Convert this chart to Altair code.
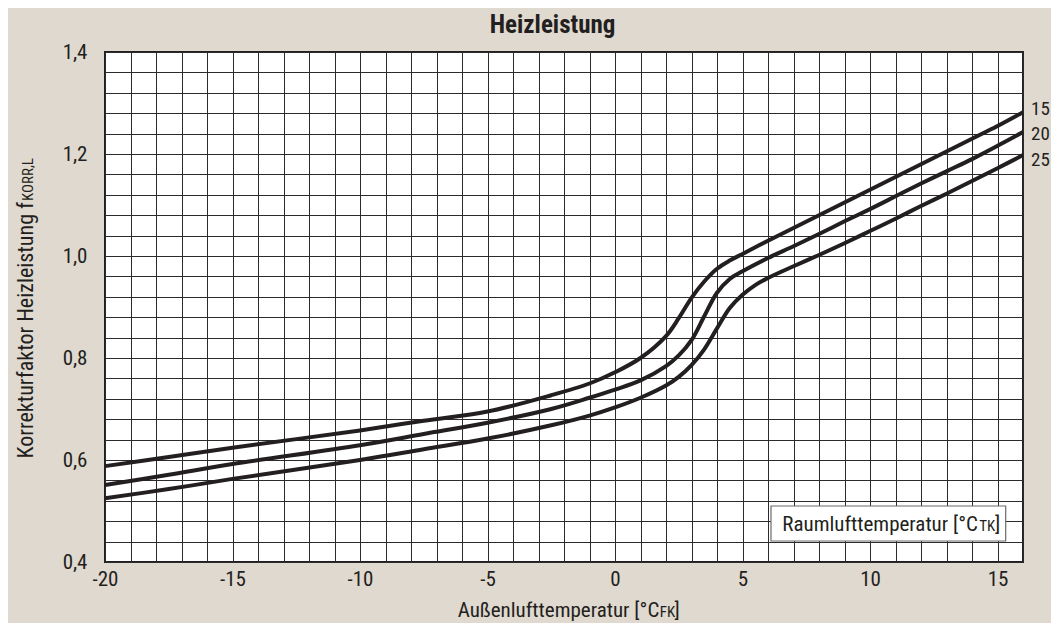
import altair as alt
import pandas as pd

# ---- data ----
x_15 = [-20, -17.5, -15, -10, -7.5, -5, -2.5, -1, 0, 1, 2, 2.5, 3, 3.5, 4, 4.5, 5, 6, 7, 8, 9, 10, 11, 12, 13, 14, 15, 16]
y_15 = [0.588, 0.606, 0.624, 0.658, 0.677, 0.695, 0.727, 0.750, 0.772, 0.800, 0.843, 0.878, 0.918, 0.950, 0.975, 0.991, 1.004, 1.030, 1.055, 1.080, 1.105, 1.130, 1.155, 1.180, 1.205, 1.230, 1.255, 1.282]

x_20 = [-20, -17.5, -15, -10, -7.5, -5, -2.5, -1, 0, 1, 2, 2.5, 3, 3.5, 4, 4.5, 5, 6, 7, 8, 9, 10, 11, 12, 13, 14, 15, 16]
y_20 = [0.551, 0.571, 0.592, 0.629, 0.651, 0.673, 0.700, 0.722, 0.738, 0.756, 0.784, 0.805, 0.835, 0.882, 0.928, 0.955, 0.970, 0.996, 1.019, 1.043, 1.068, 1.092, 1.117, 1.142, 1.166, 1.190, 1.216, 1.243]

x_25 = [-20, -17.5, -15, -10, -7.5, -5, -2.5, -1, 0, 1, 2, 2.5, 3, 3.5, 4, 4.5, 5, 5.5, 6, 7, 8, 9, 10, 11, 12, 13, 14, 15, 16]
y_25 = [0.525, 0.543, 0.563, 0.600, 0.621, 0.642, 0.668, 0.687, 0.703, 0.722, 0.746, 0.763, 0.786, 0.817, 0.858, 0.898, 0.924, 0.943, 0.957, 0.980, 1.002, 1.025, 1.049, 1.073, 1.098, 1.122, 1.147, 1.172, 1.198]

series_names = ["15", "20", "25"]
x_ticks = list(range(-20, 17))
y_ticks = [round(0.4 + 0.04 * i, 2) for i in range(26)]

title_text = ["Heizleistung"]
x_title = ["Außenlufttemperatur [°C", "FK", "]"]
y_title = ["Korrekturfaktor Heizleistung f", "KORR,L"]
legend_title = ["Raumlufttemperatur [°C", "TK", "]"]

# ---- build table ----
rows = []
for name, xs_, ys_ in zip(series_names, [x_15, x_20, x_25], [y_15, y_20, y_25]):
    for i, (a, b) in enumerate(zip(xs_, ys_)):
        rows.append({"series": name, "x": a, "y": b, "order": i})
df = pd.DataFrame(rows)
ends = df.sort_values("x").groupby("series").tail(1)

FONT = "Liberation Sans Narrow, Roboto Condensed, DejaVu Sans Condensed, sans-serif"
INK = "#231f20"
BG = "#e0d9cf"

xs = alt.Scale(domain=[-20, 16], nice=False, zero=False)
ys = alt.Scale(domain=[0.4, 1.4], nice=False, zero=False)

x_axis = alt.Axis(values=x_ticks, grid=True, ticks=False, domain=False, title=None,
                  labelExpr="datum.value % 5 == 0 ? '' + datum.value : ''",
                  labelFlush=False, labelOverlap=False, labelPadding=6,
                  labelFontSize=21, labelFont=FONT, labelColor=INK)
y_axis = alt.Axis(values=y_ticks, grid=True, ticks=False, domain=False, title=None,
                  labelExpr="abs(datum.value*5 - round(datum.value*5)) < 0.001 ? replace(format(datum.value, '.1f'), '.', ',') : ''",
                  labelFlush=False, labelOverlap=False, labelPadding=18,
                  labelFontSize=21, labelFont=FONT, labelColor=INK)

lines = alt.Chart(df).mark_line(interpolate="catmull-rom", strokeWidth=4, color=INK).encode(
    x=alt.X("x:Q", scale=xs, axis=x_axis),
    y=alt.Y("y:Q", scale=ys, axis=y_axis),
    detail="series:N",
    order="order:Q",
)

layers = [lines]

label_dy = {"15": -3, "20": 2, "25": 5}
for name in series_names:
    layers.append(
        alt.Chart(ends[ends["series"] == name]).mark_text(
            align="left", baseline="middle", dx=8, dy=label_dy[name],
            fontSize=19, font=FONT, color=INK
        ).encode(x=alt.X("x:Q", scale=xs, axis=x_axis),
                 y=alt.Y("y:Q", scale=ys, axis=y_axis),
                 text="series:N")
    )

def txt(s, x, y, size=22, align="left", weight="normal", angle=0):
    kw = dict(align=align, baseline="alphabetic", fontSize=size, font=FONT,
              color=INK, fontWeight=weight)
    if angle:
        kw["angle"] = angle
    return alt.Chart(pd.DataFrame({"t": [s]})).mark_text(**kw).encode(
        text="t:N", x=alt.value(x), y=alt.value(y))

# title
layers.append(txt(title_text[0], 447.5, -19, size=25, align="center", weight="bold"))
# x title
layers.append(txt(x_title[0], 554.3, 565, size=21, align="right"))
layers.append(txt(x_title[1], 554.8, 565, size=15))
layers.append(txt(x_title[2], 569.5, 565, size=21))
# y title (rotated)
layers.append(txt(y_title[0], -72, 150, align="right", angle=270))
layers.append(txt(y_title[1], -72, 149, size=15, align="left", angle=270))
# legend box
box = alt.Chart(pd.DataFrame({"t": [0]})).mark_rect(fill="white", stroke="#6b6b6b", strokeWidth=1.2).encode(
    x=alt.value(666), x2=alt.value(900.7), y=alt.value(454), y2=alt.value(489))
layers.append(box)
layers.append(txt(legend_title[0], 873, 478.7, size=21, align="right"))
layers.append(txt(legend_title[1], 874.3, 478.7, size=15))
layers.append(txt(legend_title[2], 890, 478.7, size=21))

chart = alt.layer(*layers).properties(
    width=918, height=510,
    autosize=alt.AutoSizeParams(type="none"),
    padding={"left": 97, "top": 44, "right": 28, "bottom": 61},
    background=BG,
).configure_view(
    stroke=INK, strokeWidth=2, fill="white"
).configure_axis(
    gridColor="#2b2b2b", gridWidth=1, gridOpacity=1
)

chart.save("out.html", embed_options={"renderer": "svg", "actions": False})
